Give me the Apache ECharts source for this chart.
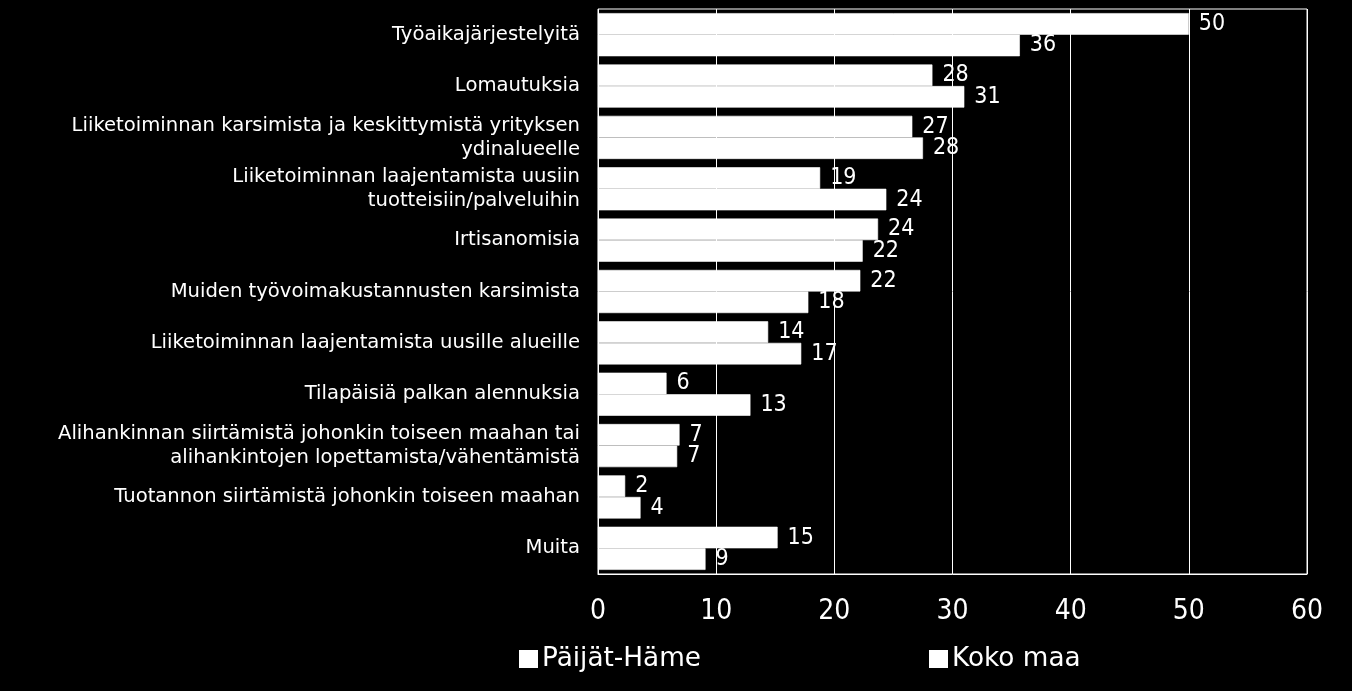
<!DOCTYPE html>
<html><head><meta charset="utf-8">
<script src="https://cdn.jsdelivr.net/npm/echarts@6/dist/echarts.min.js"></script>
<style>html,body{margin:0;padding:0;background:#000;}#c{width:1352px;height:691px;}</style>
</head><body><div id="c"></div>
<script>
const categories = [
  "Työaikajärjestelyitä",
  "Lomautuksia",
  "Liiketoiminnan karsimista ja keskittymistä yrityksen\nydinalueelle",
  "Liiketoiminnan laajentamista uusiin\ntuotteisiin/palveluihin",
  "Irtisanomisia",
  "Muiden työvoimakustannusten karsimista",
  "Liiketoiminnan laajentamista uusille alueille",
  "Tilapäisiä palkan alennuksia",
  "Alihankinnan siirtämistä johonkin toiseen maahan tai\nalihankintojen lopettamista/vähentämistä",
  "Tuotannon siirtämistä johonkin toiseen maahan",
  "Muita"
];
const seriesNames = ["Päijät-Häme", "Koko maa"];
const paijatHame = [50.0, 28.3, 26.6, 18.8, 23.7, 22.2, 14.4, 5.8, 6.9, 2.3, 15.2];
const kokoMaa = [35.7, 31.0, 27.5, 24.4, 22.4, 17.8, 17.2, 12.9, 6.7, 3.6, 9.1];
const xTicks = [0, 10, 20, 30, 40, 50, 60];

const FONT = "DejaVu Sans";
const CFONT = "DejaVu Sans Condensed";
const chart = echarts.init(document.getElementById('c'));
const lbl = {
  show: true, position: 'right', distance: 10, color: '#fff',
  fontFamily: CFONT, fontSize: 23,
  formatter: p => Math.round(p.value)
};
chart.setOption({
  backgroundColor: '#000',
  animation: false,
  grid: { left: 598, right: 45, top: 9, bottom: 117, show: true, borderColor: '#fff', borderWidth: 1 },
  legend: {
    bottom: 14, left: 514, itemWidth: 17, itemHeight: 16, itemGap: 228, itemSpacing: 4,
    icon: 'rect',
    textStyle: { color: '#fff', fontFamily: FONT, fontSize: 26.3 },
    data: seriesNames
  },
  xAxis: {
    type: 'value', min: xTicks[0], max: xTicks[xTicks.length - 1], interval: 10,
    axisLine: { show: true, lineStyle: { color: '#fff' } },
    axisTick: { show: false },
    splitLine: { show: true, lineStyle: { color: '#fff', width: 1 } },
    axisLabel: { color: '#fff', fontFamily: CFONT, fontSize: 28, margin: 24 }
  },
  yAxis: {
    type: 'category', data: categories, inverse: true,
    axisLine: { show: false }, axisTick: { show: false },
    axisLabel: { color: '#fff', fontFamily: FONT, fontSize: 19.6, margin: 18, align: 'right', lineHeight: 24, padding: [5, 0, 0, 0] }
  },
  series: [
    { name: seriesNames[0], type: 'bar', data: paijatHame, barGap: '0%', barCategoryGap: '16%',
      itemStyle: { color: '#fff', borderColor: '#fff', borderWidth: 0.6 }, label: lbl },
    { name: seriesNames[1], type: 'bar', data: kokoMaa,
      itemStyle: { color: '#fff', borderColor: '#fff', borderWidth: 0.6 }, label: lbl }
  ]
});
</script></body></html>
